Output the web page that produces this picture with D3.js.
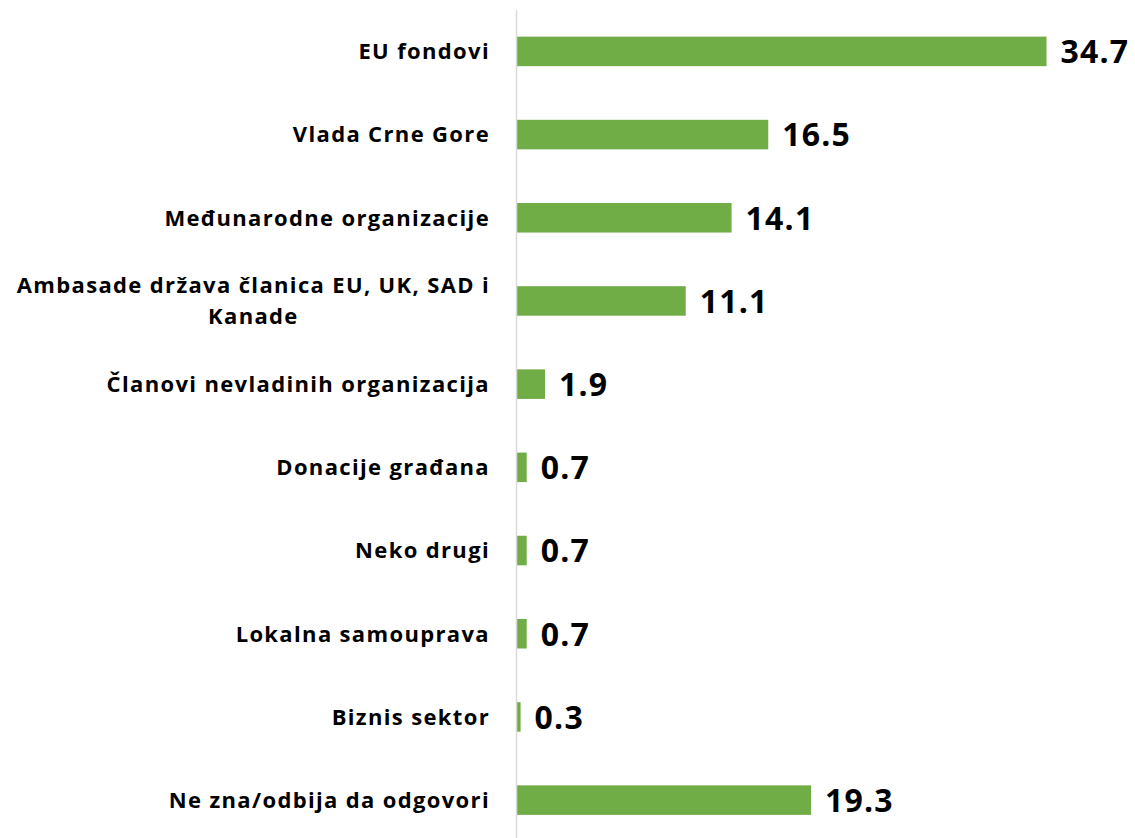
<!DOCTYPE html>
<html><head><meta charset="utf-8">
<script src="https://cdn.jsdelivr.net/npm/d3@7"></script>
<style>body{margin:0;background:#fff}</style>
</head><body>
<svg id="c" width="1135" height="838"></svg>
<script>
const categories = ["EU fondovi","Vlada Crne Gore","Međunarodne organizacije","Ambasade država članica EU, UK, SAD i|Kanade","Članovi nevladinih organizacija","Donacije građana","Neko drugi","Lokalna samouprava","Biznis sektor","Ne zna/odbija da odgovori"];
const values = [34.7,16.5,14.1,11.1,1.9,0.7,0.7,0.7,0.3,19.3];

const svg = d3.select("#c");
const x = d3.scaleLinear().domain([0,34.7]).range([516,1046.5]);
const y = d3.scaleBand().domain(categories).range([10,841.5]).paddingInner(0.645).paddingOuter(0.32);
const font = "'Open Sans', sans-serif";

svg.selectAll("rect.bar").data(values).join("rect")
  .attr("class","bar")
  .attr("x", x(0))
  .attr("y",(d,i)=>y(categories[i]))
  .attr("width", d=>x(d)-x(0))
  .attr("height", y.bandwidth())
  .attr("fill","#70ad47");

svg.append("line").attr("x1",516.5).attr("x2",516.5).attr("y1",10).attr("y2",838)
  .attr("stroke","#d9d9d9").attr("stroke-width",1.5);

svg.selectAll("text.val").data(values).join("text")
  .attr("class","val")
  .attr("x", d=>x(d)+14)
  .attr("y",(d,i)=>y(categories[i])+y.bandwidth()/2)
  .attr("dy","0.37em")
  .attr("font-family",font).attr("font-weight","bold").attr("font-size",32)
  .attr("letter-spacing",1.2)
  .attr("fill","#000")
  .text(d=>d.toFixed(1));

const lab = svg.selectAll("text.lab").data(categories).join("text")
  .attr("class","lab")
  .attr("font-family",font).attr("font-weight","bold").attr("font-size",22)
  .attr("letter-spacing",1.35)
  .attr("fill","#000");
lab.each(function(c){
  const t = d3.select(this);
  const lines = c.split("|");
  const cy = y(c)+y.bandwidth()/2;
  const lh = 31;
  const y0 = cy - (lines.length-1)*lh/2;
  const tsp = lines.map((l,j)=>t.append("tspan").attr("y",y0+j*lh).attr("dy","0.36em").text(l));
  if(lines.length===1){
    tsp[0].attr("x",490).attr("text-anchor","end");
  } else {
    const w0 = tsp[0].node().getComputedTextLength();
    const cx = 490 - w0/2;
    tsp.forEach(s=>s.attr("x",cx).attr("text-anchor","middle"));
  }
});
</script>
</body></html>
